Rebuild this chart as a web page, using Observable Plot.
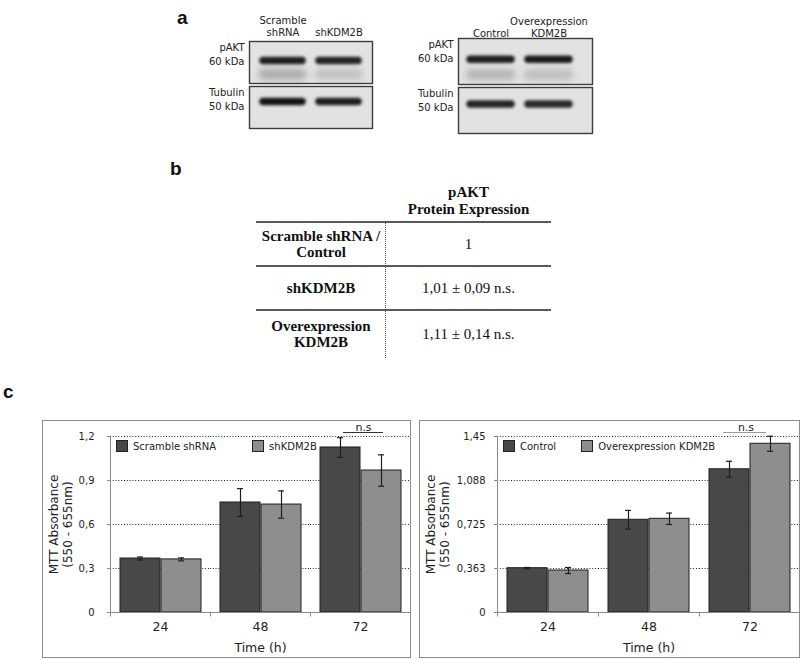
<!DOCTYPE html>
<html><head><meta charset="utf-8">
<script src="https://cdn.jsdelivr.net/npm/d3@7"></script>
<script src="https://cdn.jsdelivr.net/npm/@observablehq/plot@0.6"></script>
<style>
body{margin:0;background:#fff;}
#fig{position:relative;width:800px;height:659px;overflow:hidden;background:#fff;font-family:"DejaVu Sans",Verdana,sans-serif;color:#222;}
.letter{position:absolute;font-family:"Liberation Sans",Arial,sans-serif;font-weight:bold;font-size:19px;line-height:1;color:#111;}
.panel{position:absolute;border:1px solid #8c8c8c;box-sizing:border-box;pointer-events:none;}
.legend{position:absolute;display:flex;align-items:center;font-size:10px;color:#222;white-space:nowrap;}
.legend .sw{width:10px;height:10px;border:1px solid #222;margin-right:5px;}
.tcell{position:absolute;display:flex;align-items:center;justify-content:center;text-align:center;font-family:"Liberation Serif","Times New Roman",serif;font-size:15px;line-height:16px;color:#111;white-space:pre;}
.hline{position:absolute;background:#5a5a5a;}
svg{overflow:visible;}
</style></head><body><div id="fig"></div>
<script>
// ---------- data ----------
const timePoints = ["24", "48", "72"];
const seriesKnock = ["Scramble shRNA", "shKDM2B"];
const seriesOver = ["Control", "Overexpression KDM2B"];
const scrambleMean = [0.368, 0.750, 1.125];
const scrambleErr  = [0.010, 0.095, 0.067];
const shKdmMean    = [0.362, 0.736, 0.968];
const shKdmErr     = [0.010, 0.093, 0.107];
const controlMean  = [0.365, 0.764, 1.180];
const controlErr   = [0.006, 0.077, 0.066];
const overMean     = [0.346, 0.772, 1.390];
const overErr      = [0.025, 0.047, 0.062];
const yTicksKnock  = [0, 0.3, 0.6, 0.9, 1.2];
const yLabelsKnock = ["0", "0,3", "0,6", "0,9", "1,2"];
const yTicksOver   = [0, 0.3625, 0.725, 1.0875, 1.45];
const yLabelsOver  = ["0", "0,363", "0,725", "1,088", "1,45"];
const yTitle = "MTT Absorbance\n(550 - 655nm)";
const xTitle = "Time (h)";
const nsLabel = "n.s";

const tableHeader = "pAKT\nProtein Expression";
const tableRowLabels = ["Scramble shRNA /\nControl", "shKDM2B", "Overexpression\nKDM2B"];
const tableValues = ["1", "1,01 ± 0,09 n.s.", "1,11 ± 0,14 n.s."];

const blotProteins = ["pAKT", "Tubulin"];
const blotMarkers = ["pAKT\n60 kDa", "Tubulin\n50 kDa"];
const blotLanesKnock = ["Scramble\nshRNA", "shKDM2B"];
const blotLanesOver = ["Control", "Overexpression\nKDM2B"];
const bandProtein = ["pAKT", "pAKT", "Tubulin"];
const bandMigration = [0.45, 0.78, 0.36];
const bandIntensityKnock = [[0.95, 0.92], [0.3, 0.18], [1.0, 0.95]];
const bandIntensityOver  = [[0.95, 0.97], [0.25, 0.2], [0.92, 0.9]];

// ---------- style ----------
const FONT = '"DejaVu Sans", Verdana, sans-serif';
const DARK = "#484848", LIGHT = "#8e8e8e", AXIS = "#8a8a8a";
const fig = document.getElementById("fig");

function place(el, left, top) {
  el.style.position = "absolute";
  el.style.left = left + "px";
  el.style.top = top + "px";
  fig.appendChild(el);
  return el;
}
function div(cls, css, text) {
  const d = document.createElement("div");
  if (cls) d.className = cls;
  Object.assign(d.style, css);
  if (text != null) d.textContent = text;
  fig.appendChild(d);
  return d;
}

// ---------- panel letters ----------
div("letter", {left: "177px", top: "8px"}, "a");
div("letter", {left: "170px", top: "159px"}, "b");
div("letter", {left: "3px", top: "382px"}, "c");

// ---------- western blots ----------
function blot({left, width, height, marginLeft, marginTop, lanes, intensity, padInner, padOuter, align, fyPad, headerDy}) {
  const bands = [];
  bandProtein.forEach((p, b) => lanes.forEach((lane, i) => bands.push({protein: p, lane, pos: bandMigration[b], k: intensity[b][i], main: b !== 1})));
  const svg = Plot.plot({
    width, height, marginLeft, marginTop, marginRight: 8, marginBottom: 7,
    style: {fontFamily: FONT, fontSize: "10px", color: "#222", background: "transparent", overflow: "visible"},
    fy: {domain: blotProteins, paddingInner: fyPad, paddingOuter: 0, axis: null, label: null},
    x: {domain: lanes, paddingInner: padInner, paddingOuter: padOuter, align, axis: null, label: null},
    y: {domain: [0, 1], reverse: true, axis: null},
    opacity: {type: "linear", domain: [0, 1], range: [0, 1]},
    marks: [
      Plot.frame({fill: "#e2e2e2", stroke: "#3c3c3c", strokeWidth: 1.4}),
      Plot.tickY(bands.filter(d => !d.main), {fy: "protein", x: "lane", y: "pos", stroke: "#333", strokeOpacity: "k",
        strokeWidth: 11, strokeLinecap: "round", inset: 6, imageFilter: "blur(3px)"}),
      Plot.tickY(bands.filter(d => d.main), {fy: "protein", x: "lane", y: "pos", stroke: "#141414", strokeOpacity: "k",
        strokeWidth: 7.5, strokeLinecap: "round", inset: 5, imageFilter: "blur(1.5px)"}),
      Plot.text(blotProteins, {fy: d => d, text: (d, i) => blotMarkers[i], frameAnchor: "top-left", textAnchor: "end",
        lineAnchor: "top", dx: -5, dy: 0, fontSize: 10, lineHeight: 1.4, fill: "#222"}),
      Plot.text(lanes, {x: d => d, fy: () => blotProteins[0], frameAnchor: "top", lineAnchor: "bottom", dy: headerDy,
        fontSize: 10, lineHeight: 1.2, fill: "#222"})
    ]
  });
  place(svg, left, 0);
}
blot({left: 190, width: 190, height: 135, marginLeft: 59, marginTop: 40, lanes: blotLanesKnock, intensity: bandIntensityKnock,
  padInner: 0.12, padOuter: 0.15, align: 0.5, fyPad: 0.07, headerDy: -6});
blot({left: 395, width: 205, height: 140, marginLeft: 63, marginTop: 38, lanes: blotLanesOver, intensity: bandIntensityOver,
  padInner: 0.12, padOuter: 0.2, align: 0.3, fyPad: 0.065, headerDy: -2});

// ---------- table ----------
const tLeft = 256, tRight = 551, tDivider = 386, tTop = 222;
const rowHeights = [44, 44, 48];
div("tcell", {left: tDivider + "px", top: "184px", width: (tRight - tDivider) + "px", height: "34px", fontWeight: "bold", lineHeight: "17px"}, tableHeader);
let yCursor = tTop;
tableRowLabels.forEach((lab, i) => {
  div("hline", {left: tLeft + "px", top: (yCursor - (i === 0 ? 1 : 0.75)) + "px", width: (tRight - tLeft) + "px", height: (i === 0 ? 2 : 1.5) + "px"});
  div("tcell", {left: tLeft + "px", top: yCursor + "px", width: (tDivider - tLeft) + "px", height: rowHeights[i] + "px", fontWeight: "bold"}, lab);
  div("tcell", {left: tDivider + "px", top: yCursor + "px", width: (tRight - tDivider) + "px", height: rowHeights[i] + "px"}, tableValues[i]);
  yCursor += rowHeights[i];
});
div(null, {position: "absolute", left: (tDivider - 1) + "px", top: tTop + "px", width: "0px", height: (yCursor - tTop) + "px", borderLeft: "1.5px dotted #555"});

// ---------- bar charts ----------
const tickDown = {draw(ctx) { ctx.moveTo(0, 0); ctx.lineTo(0, 4); }};
function barChart({left, width, marginLeft, marginRight, series, means, errs, ticks, labels, tickPadding, titleDx, ns, legendLeft, legendGap}) {
  const height = 238, marginTop = 16, marginBottom = 46;
  const innerH = height - marginTop - marginBottom;
  const axisLine = {draw(ctx) { ctx.moveTo(0, 4); ctx.lineTo(0, -innerH); }};
  const yMax = ticks[ticks.length - 1];
  const rows = [];
  timePoints.forEach((t, i) => series.forEach((s, j) => rows.push({time: t, series: s, value: means[j][i], err: errs[j][i]})));
  const svg = Plot.plot({
    width, height, marginLeft, marginRight, marginTop, marginBottom,
    style: {fontFamily: FONT, fontSize: "10px", color: "#222", background: "transparent", overflow: "visible"},
    fx: {domain: timePoints, padding: 0, label: null},
    x: {domain: series, paddingInner: 0.036, paddingOuter: 0.223, axis: null, label: null},
    y: {domain: [0, yMax], axis: null},
    color: {domain: series, range: [DARK, LIGHT]},
    marks: [
      Plot.gridY(ticks.slice(1), {stroke: "#222", strokeOpacity: 1, strokeWidth: 1, strokeDasharray: "1,1.8"}),
      Plot.barY(rows, {fx: "time", x: "series", y: "value", fill: "series", stroke: "#1e1e1e", strokeWidth: 1}),
      Plot.ruleX(rows, {fx: "time", x: "series", y1: d => d.value - d.err, y2: d => d.value + d.err, stroke: "#1e1e1e", strokeWidth: 1.2}),
      Plot.tickY(rows, {fx: "time", x: "series", y: d => d.value - d.err, stroke: "#1e1e1e", strokeWidth: 1.2, inset: 17}),
      Plot.tickY(rows, {fx: "time", x: "series", y: d => d.value + d.err, stroke: "#1e1e1e", strokeWidth: 1.2, inset: 17}),
      Plot.ruleY([0], {stroke: AXIS, strokeWidth: 1}),
      Plot.dot(timePoints.slice(0, 1), {fx: d => d, frameAnchor: "bottom-left", symbol: axisLine, r: 3, fill: "none", stroke: AXIS, strokeWidth: 1}),
      Plot.dot(timePoints.slice(1), {fx: d => d, frameAnchor: "bottom-left", symbol: tickDown, r: 3, fill: "none", stroke: AXIS, strokeWidth: 1}),
      Plot.axisY(ticks, {anchor: "left", tickSize: 3, tickPadding, stroke: AXIS, fill: "#222", fontSize: 10,
        tickFormat: d => labels[ticks.indexOf(d)], label: null}),
      Plot.axisFx({anchor: "bottom", tickSize: 0, tickPadding: 10, fontSize: 12.5, fill: "#222", label: null}),
      Plot.text([yTitle], {fx: () => timePoints[0], frameAnchor: "left", rotate: -90, dx: titleDx, fontSize: 12,
        lineHeight: 1.15, textAnchor: "middle", lineAnchor: "middle", fill: "#222"}),
      Plot.text([xTitle], {fx: () => timePoints[1], frameAnchor: "bottom", dy: 39, fontSize: 12.5, fill: "#222"}),
      Plot.ruleY([nsLabel], {fx: () => timePoints[2], y: () => yMax, dy: -4, insetLeft: ns.insetLeft, insetRight: ns.insetRight, stroke: ns.color, strokeWidth: 1.2}),
      Plot.text([nsLabel], {fx: () => timePoints[2], y: () => yMax, dx: ns.dx, dy: -6, lineAnchor: "bottom", fontSize: 11, fill: "#222"})
    ]
  });
  place(svg, left, 420);
  div("panel", {left: left + "px", top: "420px", width: (left === 42 ? 369 : 381) + "px", height: "238px"});
  const lg = div("legend", {left: legendLeft + "px", top: "440px"});
  series.forEach((s, j) => {
    const item = document.createElement("div");
    item.style.display = "flex"; item.style.alignItems = "center";
    if (j > 0) item.style.marginLeft = legendGap + "px";
    const sw = document.createElement("div"); sw.className = "sw"; sw.style.background = j === 0 ? DARK : LIGHT;
    const tx = document.createElement("span"); tx.textContent = s;
    item.appendChild(sw); item.appendChild(tx); lg.appendChild(item);
  });
}
barChart({left: 42, width: 369, marginLeft: 67, marginRight: 1, series: seriesKnock, means: [scrambleMean, shKdmMean],
  errs: [scrambleErr, shKdmErr], ticks: yTicksKnock, labels: yLabelsKnock, tickPadding: 13, titleDx: -50,
  ns: {insetLeft: 33, insetRight: 27, dx: 3, color: "#333"}, legendLeft: 116, legendGap: 36});
barChart({left: 419, width: 381, marginLeft: 78, marginRight: 0, series: seriesOver, means: [controlMean, overMean],
  errs: [controlErr, overErr], ticks: yTicksOver, labels: yLabelsOver, tickPadding: 9, titleDx: -60,
  ns: {insetLeft: 24, insetRight: 34, dx: -4, color: "#9a9a9a"}, legendLeft: 503, legendGap: 25});
</script></body></html>
